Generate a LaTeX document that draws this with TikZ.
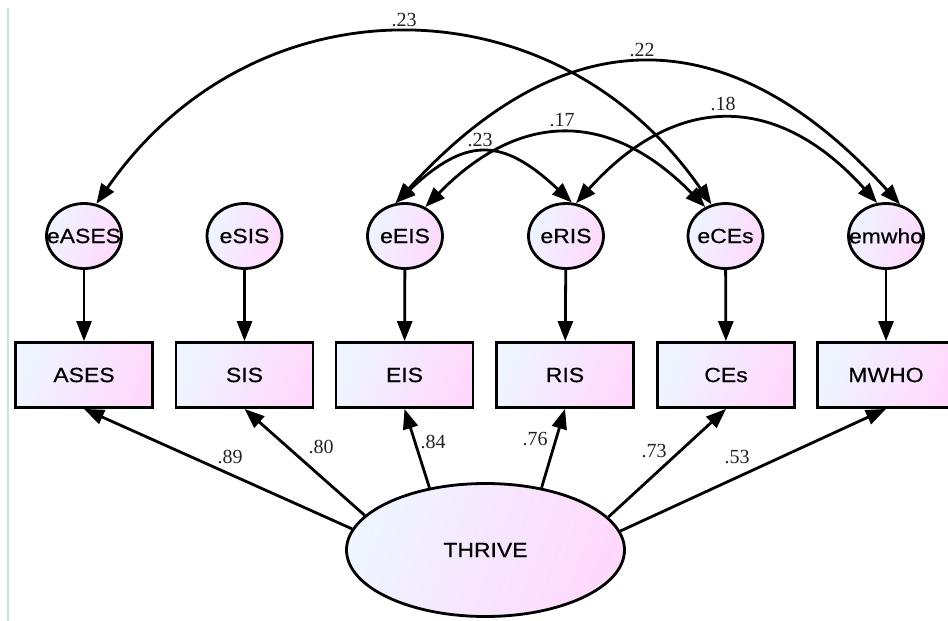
\documentclass[tikz,border=0pt]{standalone}
\usepackage{fontspec}
\usetikzlibrary{shapes.geometric,arrows.meta}
\newfontfamily\nodefont[FakeStretch=1.12,FakeBold=0.5]{Liberation Sans}
\newfontfamily\numfont{Liberation Serif}
\newcommand\ztxt[1]{\makebox[0pt]{#1}}
\definecolor{fillA}{RGB}{238,245,255}
\definecolor{fillB}{RGB}{255,216,252}
\definecolor{edgeline}{RGB}{190,232,222}
\definecolor{numcol}{RGB}{35,35,35}
\begin{document}
\begin{tikzpicture}[x=1pt,y=-1pt,
  shadefill/.style={left color=fillA,right color=fillB,shading angle=70},
  errnode/.style={ellipse,draw,line width=2.8pt,shadefill,minimum width=75pt,minimum height=65pt,inner sep=0pt,font=\nodefont\fontsize{20.5}{20.5}\selectfont},
  obsnode/.style={rectangle,draw,line width=2.8pt,shadefill,minimum width=137pt,minimum height=65pt,inner sep=0pt,font=\nodefont\fontsize{20.5}{20.5}\selectfont},
  latnode/.style={ellipse,draw,line width=2.8pt,shadefill,minimum width=278pt,minimum height=133pt,inner sep=0pt,font=\nodefont\fontsize{20.5}{20.5}\selectfont},
  conn/.style={line width=2.8pt,-{Triangle[length=20pt,width=15pt]}},
  cov/.style={line width=2.8pt,{Triangle[length=20pt,width=15pt]}-{Triangle[length=20pt,width=15pt]}},
  numlbl/.style={font=\numfont\fontsize{20}{20}\selectfont,text=numcol,inner sep=0pt}]
\useasboundingbox (0,0) rectangle (948,621);
\fill[white] (0,0) rectangle (948,621);
\draw[edgeline,line width=2pt] (7.5,8) coordinate (lt) -- (7.5,621) coordinate (lb);

% error terms
\node[errnode] (eASES) at (84,236) {\ztxt{eASES}};
\node[errnode] (eSIS) at (244.5,236) {\ztxt{eSIS}};
\node[errnode] (eEIS) at (405,236) {\ztxt{eEIS}};
\node[errnode] (eRIS) at (566,236) {\ztxt{eRIS}};
\node[errnode] (eCEs) at (725.5,236) {\ztxt{eCEs}};
\node[errnode] (emwho) at (886,236) {\ztxt{emwho}};

% observed
\node[obsnode] (ASES) at (84,375) {ASES};
\node[obsnode] (SIS) at (244.5,375) {SIS};
\node[obsnode] (EIS) at (404.5,375) {EIS};
\node[obsnode] (RIS) at (565,375) {RIS};
\node[obsnode] (CEs) at (726,375) {CEs};
\node[obsnode] (MWHO) at (886,375) {MWHO};

% latent
\node[latnode] (THRIVE) at (485.5,550) {\ztxt{THRIVE}};

% error -> observed
\foreach \e/\o in {eASES/ASES,eSIS/SIS,eEIS/EIS,eRIS/RIS,eCEs/CEs,emwho/MWHO}
  \draw[conn] (\e) -- (\o);

% loadings
\draw[conn] (THRIVE.171.6) -- (ASES.south);
\draw[conn] (THRIVE.164.2) -- (SIS.south);
\draw[conn] (THRIVE.132.4) -- (EIS.south);
\draw[conn] (THRIVE.48) -- (RIS.south);
\draw[conn] (THRIVE.15.9) -- (CEs.south);
\draw[conn] (THRIVE.8.4) -- (MWHO.south);

% covariances
\draw[cov] (eASES.69) .. controls +(157,-227) and +(-157,-227) .. (eCEs.114);
\draw[cov] (eEIS.106) .. controls +(170,-187) and +(-170,-187) .. (emwho.66);
\draw[cov] (eEIS.55) .. controls +(95,-97) and +(-95,-97) .. (eCEs.125);
\draw[cov] (eEIS.106) .. controls +(70,-66) and +(-70,-66) .. (eRIS.80);
\draw[cov] (eRIS.73) .. controls +(100,-111) and +(-100,-111) .. (emwho.105);

% labels
\node[numlbl] (l1) at (404,20) {.23};
\node[numlbl] (l2) at (642,50) {.22};
\node[numlbl] (l3) at (562,120) {.17};
\node[numlbl] (l4) at (480,140) {.23};
\node[numlbl] (l5) at (723,104) {.18};
\node[numlbl] (l6) at (230,457) {.89};
\node[numlbl] (l7) at (321,447) {.80};
\node[numlbl] (l8) at (433,442) {.84};
\node[numlbl] (l9) at (535,439) {.76};
\node[numlbl] (l10) at (654,451) {.73};
\node[numlbl] (l11) at (737,457) {.53};
\end{tikzpicture}
\end{document}
